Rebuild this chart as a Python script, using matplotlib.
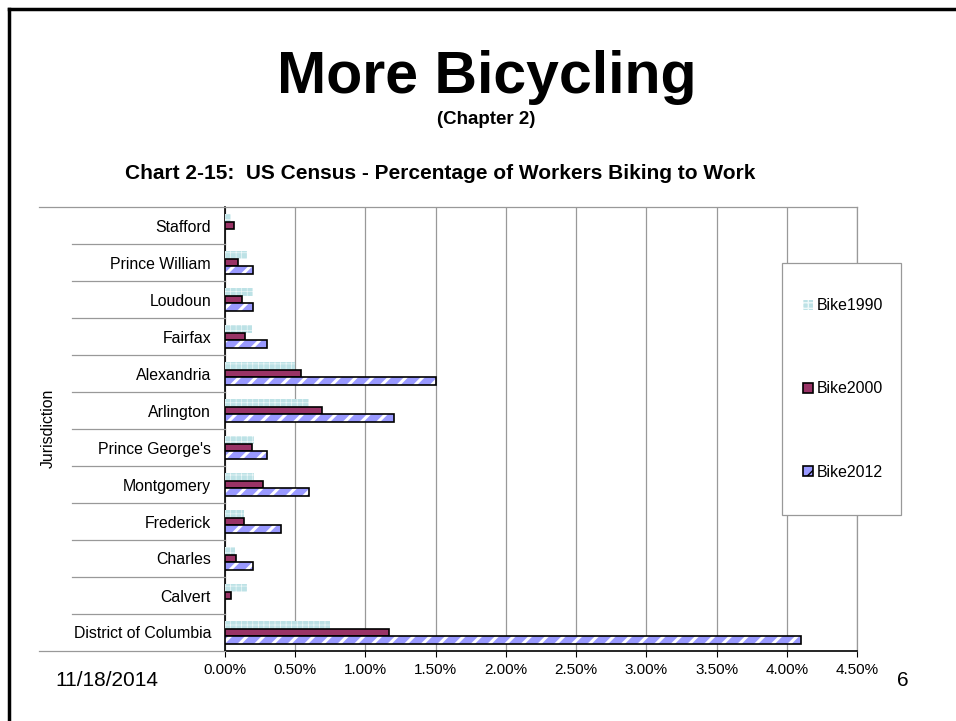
import numpy as np
import matplotlib.pyplot as plt
from matplotlib.patches import Patch, Rectangle
from matplotlib.lines import Line2D
from matplotlib.ticker import FuncFormatter

plt.rcParams['font.family'] = ['Liberation Sans', 'DejaVu Sans']

# data (bottom to top, as drawn), percent of workers
places = ['District of Columbia', 'Calvert', 'Charles', 'Frederick', 'Montgomery',
          "Prince George's", 'Arlington', 'Alexandria', 'Fairfax', 'Loudoun',
          'Prince William', 'Stafford']
bike1990 = [0.75, 0.16, 0.07, 0.135, 0.21, 0.21, 0.60, 0.50, 0.19, 0.20, 0.155, 0.04]
bike2000 = [1.165, 0.045, 0.08, 0.135, 0.27, 0.195, 0.69, 0.54, 0.14, 0.12, 0.095, 0.065]
bike2012 = [4.10, 0.0, 0.20, 0.40, 0.60, 0.30, 1.20, 1.50, 0.30, 0.20, 0.20, 0.0]
series_names = ['Bike1990', 'Bike2000', 'Bike2012']
xticks = np.arange(0, 4.51, 0.5)

c1990 = '#bde2e6'
c2000 = '#993366'
c2012 = '#9999ff'
fs = 11.4

fig = plt.figure(figsize=(9.56, 7.21), dpi=100)
ax = fig.add_axes([225/956, 1-651/721, (857-225)/956, (651-207)/721])

y = np.arange(len(places))
h = 0.216

def hatch_lw(bars, lw):
    for b in bars:
        if hasattr(b, 'set_hatch_linewidth'):
            b.set_hatch_linewidth(lw)

with plt.rc_context({'hatch.linewidth': 0.5}):
    b1 = ax.barh(y + h, bike1990, height=h, color=c1990, hatch='+++',
                 edgecolor='#eef8f9', linewidth=0, zorder=3)
hatch_lw(b1, 0.5)
ax.barh(y, bike2000, height=h, color=c2000, edgecolor='black', linewidth=1.2, zorder=3)
with plt.rc_context({'hatch.linewidth': 2.2}):
    b3 = ax.barh(y - h, bike2012, height=h, color=c2012, hatch='//',
                 edgecolor='white', linewidth=0, zorder=3)
hatch_lw(b3, 2.2)
for yy, v in zip(y, bike2012):
    if v > 0:
        ax.barh(yy - h, v, height=h, fill=False, edgecolor='black', linewidth=1.2, zorder=4)

ax.set_xlim(0, 4.5)
ax.set_ylim(-0.5, len(places) - 0.5)
ax.set_xticks(xticks)
ax.xaxis.set_major_formatter(FuncFormatter(lambda v, p: '{:.2f}%'.format(v)))
ax.set_yticks(y)
ax.set_yticklabels(places)
ax.set_yticks(np.arange(len(places) + 1) - 0.5, minor=True)
ax.tick_params(axis='y', which='major', length=0, labelsize=fs, pad=10)
ax.tick_params(axis='y', which='minor', length=4, direction='out')
ax.tick_params(axis='x', length=4, direction='out', labelsize=11, pad=5)
ax.grid(axis='x', color='#999999', linewidth=0.9)
ax.set_axisbelow(True)
for s in ['top', 'right']:
    ax.spines[s].set_color('#999999')
    ax.spines[s].set_linewidth(0.9)
for s in ['left', 'bottom']:
    ax.spines[s].set_color('black')
    ax.spines[s].set_linewidth(1.2)

# category separator lines reaching into the label area
for k in range(len(places) + 1):
    yb = k - 0.5
    yf = ax.transData.transform((0, yb))[1] / fig.bbox.height
    x0 = 39/956 if k in (0, len(places)) else 72/956
    fig.add_artist(Line2D([x0, 225/956], [yf, yf], color='#999999', linewidth=0.9))

fig.text(48/956, 1-428/721, 'Jurisdiction', rotation=90, ha='center', va='center', fontsize=fs)

# legend box
fig.add_artist(Rectangle((782/956, 1-515/721), (901-782)/956, (515-263)/721,
                         transform=fig.transFigure, facecolor='white',
                         edgecolor='#999999', linewidth=0.9, zorder=5))
handles = [Patch(facecolor=c1990, hatch='+++', edgecolor='#eef8f9', linewidth=0),
           Patch(facecolor=c2000, edgecolor='black', linewidth=1.2),
           Patch(facecolor=c2012, hatch='//', edgecolor='black', linewidth=1.2)]
leg = fig.legend(handles, series_names, loc='center',
                 bbox_to_anchor=(843/956, 1-389/721), fontsize=fs,
                 handlelength=0.6, handleheight=0.6, handletextpad=0.25,
                 labelspacing=4.3, borderpad=0, borderaxespad=0,
                 frameon=False)
leg.set_zorder(6)

fig.text(487/956, 1-93/721, 'More Bicycling', ha='center', va='baseline',
         fontsize=42.5, fontweight='bold')
fig.text(486/956, 1-124/721, '(Chapter 2)', ha='center', va='baseline',
         fontsize=13.5, fontweight='bold')
fig.text(440/956, 1-179/721, 'Chart 2-15:  US Census - Percentage of Workers Biking to Work',
         ha='center', va='baseline', fontsize=15, fontweight='bold')
fig.text(55/956, 1-680/721, '11/18/2014', ha='left', va='center', fontsize=15)
fig.text(903/956, 1-680/721, '6', ha='center', va='center', fontsize=15)

# slide border (top and left edges visible)
fig.add_artist(Line2D([9/956, 1], [1-9/721, 1-9/721], color='black', linewidth=2.5,
                      solid_capstyle='projecting'))
fig.add_artist(Line2D([9/956, 9/956], [0, 1-9/721], color='black', linewidth=2.5,
                      solid_capstyle='projecting'))

fig.savefig('out.png', dpi=100)
